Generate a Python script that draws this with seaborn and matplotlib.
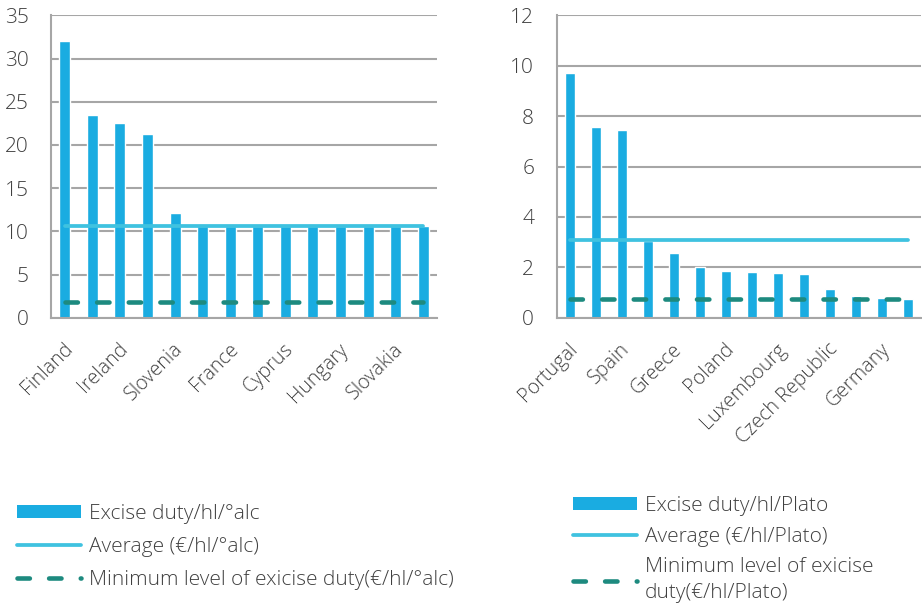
import numpy as np
import matplotlib
matplotlib.use("Agg")
import matplotlib.pyplot as plt
from matplotlib.patches import Patch
from matplotlib.lines import Line2D
from matplotlib.transforms import ScaledTranslation
import seaborn as sns

# Excise duty per hl per degree alcohol
countries_alc = ["Finland", "Sweden", "Ireland", "United Kingdom", "Slovenia", "Denmark",
                 "France", "Estonia", "Cyprus", "Latvia", "Hungary", "Malta", "Slovakia", "Croatia"]
duty_alc = [32.0, 23.5, 22.5, 21.3, 12.1, 10.6, 10.6, 10.6, 10.6, 10.6, 10.6, 10.6, 10.6, 10.6]
avg_alc = 10.6
min_alc = 1.87

# Excise duty per hl per degree Plato
countries_plato = ["Portugal", "Italy", "Spain", "Belgium", "Greece", "Netherlands", "Poland",
                   "Lithuania", "Luxembourg", "Austria", "Czech Republic", "Romania", "Germany", "Bulgaria"]
duty_plato = [9.70, 7.57, 7.46, 3.05, 2.58, 2.00, 1.84, 1.83, 1.77, 1.72, 1.14, 0.87, 0.77, 0.74]
avg_plato = 3.08
min_plato = 0.748

BAR = "#1aace1"
AVG = "#3fc2e0"
MIN = "#1d8a7f"
GRID = "#a6a6a6"
TEXT = "#404040"

AVG_LW = 2.7
MIN_LW = 3.3
MIN_DASH = (0, (2.7, 4.2))

sns.set_theme(style="white")
plt.rcParams["font.family"] = ["Open Sans", "DejaVu Sans"]
plt.rcParams["font.weight"] = "light"
plt.rcParams["text.color"] = TEXT
plt.rcParams["xtick.color"] = TEXT
plt.rcParams["ytick.color"] = TEXT

W, H = 922, 606
fig = plt.figure(figsize=(W / 100, H / 100), dpi=100)
label_shift = ScaledTranslation(5 / 100, -5 / 100, fig.dpi_scale_trans)


def ax_rect(x0, x1, y0, y1):
    return [x0 / W, 1 - y1 / H, (x1 - x0) / W, (y1 - y0) / H]


def draw(ax, names, vals, avg, minimum, ymax, ystep, boundary_ticks):
    n = len(names)
    xs = np.arange(n)
    sns.barplot(x=xs, y=vals, color=BAR, width=0.4, saturation=1,
                ax=ax, zorder=2, native_scale=True)
    ax.plot(xs, [avg] * n, color=AVG, lw=AVG_LW, zorder=3, solid_capstyle="round")
    ax.plot(xs, [minimum] * n, color=MIN, lw=MIN_LW, zorder=3,
            linestyle=MIN_DASH, dash_capstyle="round")
    ax.set_xlim(-0.5, n - 0.5)
    ax.set_ylim(0, ymax)
    ax.set_yticks(np.arange(0, ymax + 0.01, ystep))
    ax.yaxis.grid(True, color=GRID, lw=1.5, zorder=0)
    ax.set_axisbelow(True)
    for s in ["top", "right"]:
        ax.spines[s].set_visible(False)
    for s in ["left", "bottom"]:
        ax.spines[s].set_color(GRID)
        ax.spines[s].set_linewidth(1.5)
    ax.set_xticks(xs)
    ax.tick_params(axis="x", length=0, pad=17)
    if boundary_ticks:
        ax.set_xticks(np.arange(-0.5, n, 1.0), minor=True)
        ax.tick_params(axis="x", which="minor", length=5, width=1.5, color=GRID, direction="out")
        ax.tick_params(axis="y", length=5, width=1.5, color=GRID, pad=11.5, labelsize=15)
    else:
        ax.tick_params(axis="y", length=0, pad=16, labelsize=15)
    ax.set_xticklabels([nm if i % 2 == 0 else "" for i, nm in enumerate(names)],
                       rotation=45, ha="right", va="center", rotation_mode="anchor",
                       fontsize=14.2)
    for lab in ax.get_xticklabels():
        lab.set_transform(lab.get_transform() + label_shift)
    ax.set_xlabel("")
    ax.set_ylabel("")


ax1 = fig.add_axes(ax_rect(51, 437, 15.3, 317.7))
draw(ax1, countries_alc, duty_alc, avg_alc, min_alc, 35, 5, False)

ax2 = fig.add_axes(ax_rect(557, 921, 15.3, 317.7))
draw(ax2, countries_plato, duty_plato, avg_plato, min_plato, 12, 2, True)


def handles():
    return [
        Patch(facecolor=BAR, edgecolor="none"),
        Line2D([], [], color=AVG, lw=AVG_LW, solid_capstyle="round"),
        Line2D([], [], color=MIN, lw=MIN_LW, linestyle=MIN_DASH, dash_capstyle="round"),
    ]


fig.legend(handles(),
           ["Excise duty/hl/°alc", "Average (€/hl/°alc)",
            "Minimum level of exicise duty(€/hl/°alc)"],
           loc="upper left", bbox_to_anchor=(-2 / W, 1 - 485 / H),
           frameon=False, fontsize=15, handlelength=3.1, handleheight=0.62,
           handletextpad=0.38, labelspacing=0.62)

leg2 = fig.legend(handles(),
                  ["Excise duty/hl/Plato", "Average (€/hl/Plato)",
                   "Minimum level of exicise\nduty(€/hl/Plato)"],
                  loc="upper left", bbox_to_anchor=(554 / W, 1 - 477 / H),
                  frameon=False, fontsize=15, handlelength=3.1, handleheight=0.62,
                  handletextpad=0.38, labelspacing=0.52)
leg2.get_texts()[2].set_linespacing(1.35)

fig.savefig("out.png", dpi=100)
